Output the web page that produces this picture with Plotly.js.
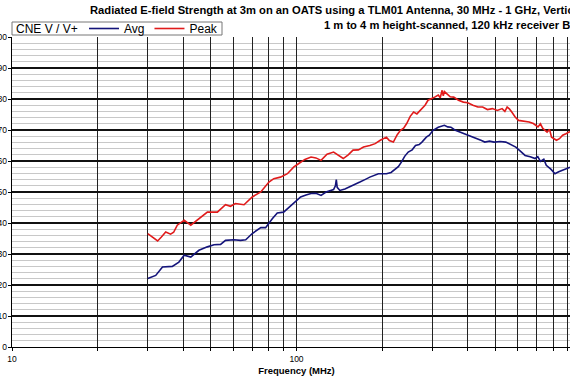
<!DOCTYPE html>
<html>
<head>
<meta charset="utf-8">
<script src="https://cdn.plot.ly/plotly-3.0.1.min.js"></script>
<style>
html, body { margin: 0; padding: 0; overflow: hidden; background: #fff; }
#chart { width: 600px; height: 380px; }
</style>
</head>
<body>
<div id="chart"></div>
<script>
// Peak (red) readings: frequency in MHz, level in dB(uV/m)
const freqPeak = [30, 31, 32.5, 33.5, 34.7, 36.1, 37, 38.1, 40.3, 42.5, 44.8, 46.5, 48.6, 52.7, 56.3, 58.6, 61, 65.4, 69.9, 74.9,
  80, 83.2, 87.8, 92.9, 97.9, 101.9, 107, 112.5, 117, 122, 128, 135, 140, 146, 152, 158, 165, 172, 181, 189,
  197, 207, 212, 219, 226, 232, 238, 244, 251, 258, 265, 272, 283, 290, 298, 306, 315, 320, 325, 328, 331, 338,
  347, 357, 371, 386, 400, 417, 434, 451, 469, 488, 508, 528, 540, 550, 560, 571, 587, 603, 620, 636, 657,
  680, 706, 720, 734, 760, 775, 788, 805, 820, 840, 862, 885, 910, 950, 1000];
const peak = [36.6, 35.5, 34.2, 35.5, 37.1, 36.4, 37.0, 39.3, 40.9, 39.3, 40.9, 42.3, 43.5, 43.5, 45.9, 45.4, 46.3, 45.9, 48.4, 50.0,
  53.2, 54.3, 54.8, 55.9, 58.1, 59.2, 60.5, 61.3, 61.0, 60.2, 62.2, 62.9, 61.8, 60.8, 62.0, 63.5, 63.6, 64.5, 65.0, 65.6,
  66.7, 67.7, 66.6, 66.1, 68.5, 69.9, 70.6, 72.1, 74.4, 75.8, 75.2, 76.4, 78.0, 79.6, 80.0, 80.6, 81.3, 80.4, 82.8, 81.0, 82.4, 81.7,
  80.7, 80.6, 79.6, 79.0, 78.8, 78.0, 77.4, 77.4, 76.6, 76.9, 76.3, 76.9, 76.0, 77.4, 76.8, 75.8, 74.2, 73.1, 72.9, 72.6, 72.6,
  72.1, 71.0, 72.0, 70.5, 69.3, 70.2, 67.7, 67.0, 66.7, 67.2, 68.3, 68.8, 69.4, 69.0, 69.4];

// Average (blue) readings
const freqAvg = [30, 32, 33.8, 36.6, 38.6, 40.3, 42.5, 45.4, 48.6, 51.3, 54.1, 56.3, 60.2, 63.6, 66.3, 69.9, 74.9, 77.9, 82.2, 85.6,
  90.1, 95.1, 100.4, 103.4, 108, 112.5, 117, 122, 127, 131, 135, 137, 138, 139, 142, 148, 154, 160, 167, 174,
  181, 194, 207, 215, 222, 228, 234, 240, 247, 255, 262, 270, 276, 286, 293, 302, 315, 323, 331, 340,
  349, 360, 374, 389, 404, 420, 436, 447, 459, 477, 495, 520, 544, 565, 590, 612, 636, 663, 690, 705,
  720, 740, 755, 785, 810, 835, 862, 885, 910, 1000];
const avg = [22.1, 23.1, 25.8, 26.0, 27.4, 29.6, 29.0, 31.2, 32.3, 33.0, 33.1, 34.4, 34.6, 34.4, 34.6, 36.6, 38.5, 38.5, 41.4, 43.2,
  43.5, 45.4, 47.5, 48.4, 49.0, 49.5, 49.6, 48.9, 50.0, 50.5, 50.8, 52.0, 54.0, 51.5, 50.5, 51.0, 51.8, 52.6, 53.2, 54.0,
  54.8, 55.9, 55.9, 56.3, 57.2, 58.2, 59.7, 61.5, 62.9, 63.6, 65.0, 65.3, 66.1, 67.7, 68.3, 69.9, 70.9, 71.3, 71.5, 71.0,
  70.9, 70.0, 69.4, 68.9, 68.3, 67.6, 67.2, 66.6, 66.1, 66.4, 66.1, 66.3, 66.1, 65.3, 64.5, 63.2, 61.8, 61.4, 60.8, 61.4,
  59.9, 60.6, 58.6, 57.3, 55.9, 56.5, 57.0, 57.6, 57.9, 58.3];

const xTickVals = [10, 20, 30, 40, 50, 60, 70, 80, 90, 100, 200, 300, 400, 500, 600, 700, 800, 900, 1000];
const xTickText = ['10', '', '', '', '', '', '', '', '', '100', '', '', '', '', '', '', '', '', '1000'];

const titleLine1 = 'Radiated E-field Strength at 3m on an OATS using a TLM01 Antenna, 30 MHz - 1 GHz, Vertical Polarization';
const titleLine2 = '1 m to 4 m height-scanned, 120 kHz receiver BW';
const legendTitle = 'CNE V / V+';

const FONT = 'Arial, "Liberation Sans", sans-serif';

// pixel helpers for paper positioning (plot area: x 12..581, y 37..347)
const px = v => (v - 12) / 569;
const py = v => (347 - v) / 310;

const traces = [
  { x: freqAvg, y: avg, name: 'Avg', type: 'scatter', mode: 'lines',
    line: { color: '#14147a', width: 1.6 } },
  { x: freqPeak, y: peak, name: 'Peak', type: 'scatter', mode: 'lines',
    line: { color: '#e01b1b', width: 1.6 } }
];

const layout = {
  width: 600, height: 380,
  margin: { l: 12, r: 19, t: 37, b: 33, autoexpand: false },
  paper_bgcolor: '#ffffff', plot_bgcolor: '#ffffff',
  font: { family: FONT, color: '#000' },
  showlegend: true,
  legend: {
    orientation: 'h', x: px(84), xanchor: 'left', y: py(28.5), yanchor: 'middle',
    bgcolor: 'rgba(0,0,0,0)', borderwidth: 0,
    font: { family: FONT, size: 12, color: '#000' },
    itemwidth: 30, tracegroupgap: 0
  },
  xaxis: {
    type: 'log', range: [1, 3],
    tickmode: 'array', tickvals: xTickVals, ticktext: xTickText,
    ticks: 'outside', ticklen: 3, tickcolor: '#000',
    tickfont: { family: FONT, size: 8.5, color: '#000' },
    showgrid: true, gridcolor: '#222', gridwidth: 1,
    showline: true, linecolor: '#000', linewidth: 1.3,
    zeroline: false,
    title: { text: '<b>Frequency (MHz)</b>', font: { family: FONT, size: 9.5, color: '#000' }, standoff: 4 }
  },
  yaxis: {
    range: [0, 100], dtick: 10, tick0: 0,
    ticks: 'outside', ticklen: 3, tickcolor: '#000',
    tickfont: { family: FONT, size: 8.5, color: '#000' },
    ticklabelstandoff: -1,
    showgrid: true, gridcolor: '#111', gridwidth: 1.2,
    minor: { dtick: 2, showgrid: true, gridcolor: '#c8c8c8', gridwidth: 1, ticks: '' },
    showline: true, linecolor: '#000', linewidth: 1.3,
    zeroline: false
  },
  shapes: [
    { type: 'rect', xref: 'paper', yref: 'paper', x0: px(12), x1: px(222), y0: py(35), y1: py(22),
      line: { color: '#777', width: 1 }, fillcolor: 'rgba(0,0,0,0)', layer: 'above' }
  ],
  annotations: [
    { text: legendTitle, xref: 'paper', yref: 'paper',
      x: px(14), y: py(28.5), xanchor: 'left', yanchor: 'middle',
      showarrow: false, font: { family: FONT, size: 12, color: '#000' } },
    { text: '<b>' + titleLine1 + '</b>', xref: 'paper', yref: 'paper',
      x: px(88), y: py(9.5), xanchor: 'left', yanchor: 'middle',
      showarrow: false, font: { family: FONT, size: 11.2, color: '#000' } },
    { text: '<b>' + titleLine2 + '</b>', xref: 'paper', yref: 'paper',
      x: px(322), y: py(24.5), xanchor: 'left', yanchor: 'middle',
      showarrow: false, font: { family: FONT, size: 11.2, color: '#000' } }
  ]
};

Plotly.newPlot('chart', traces, layout, { displayModeBar: false, staticPlot: true });
</script>
</body>
</html>
